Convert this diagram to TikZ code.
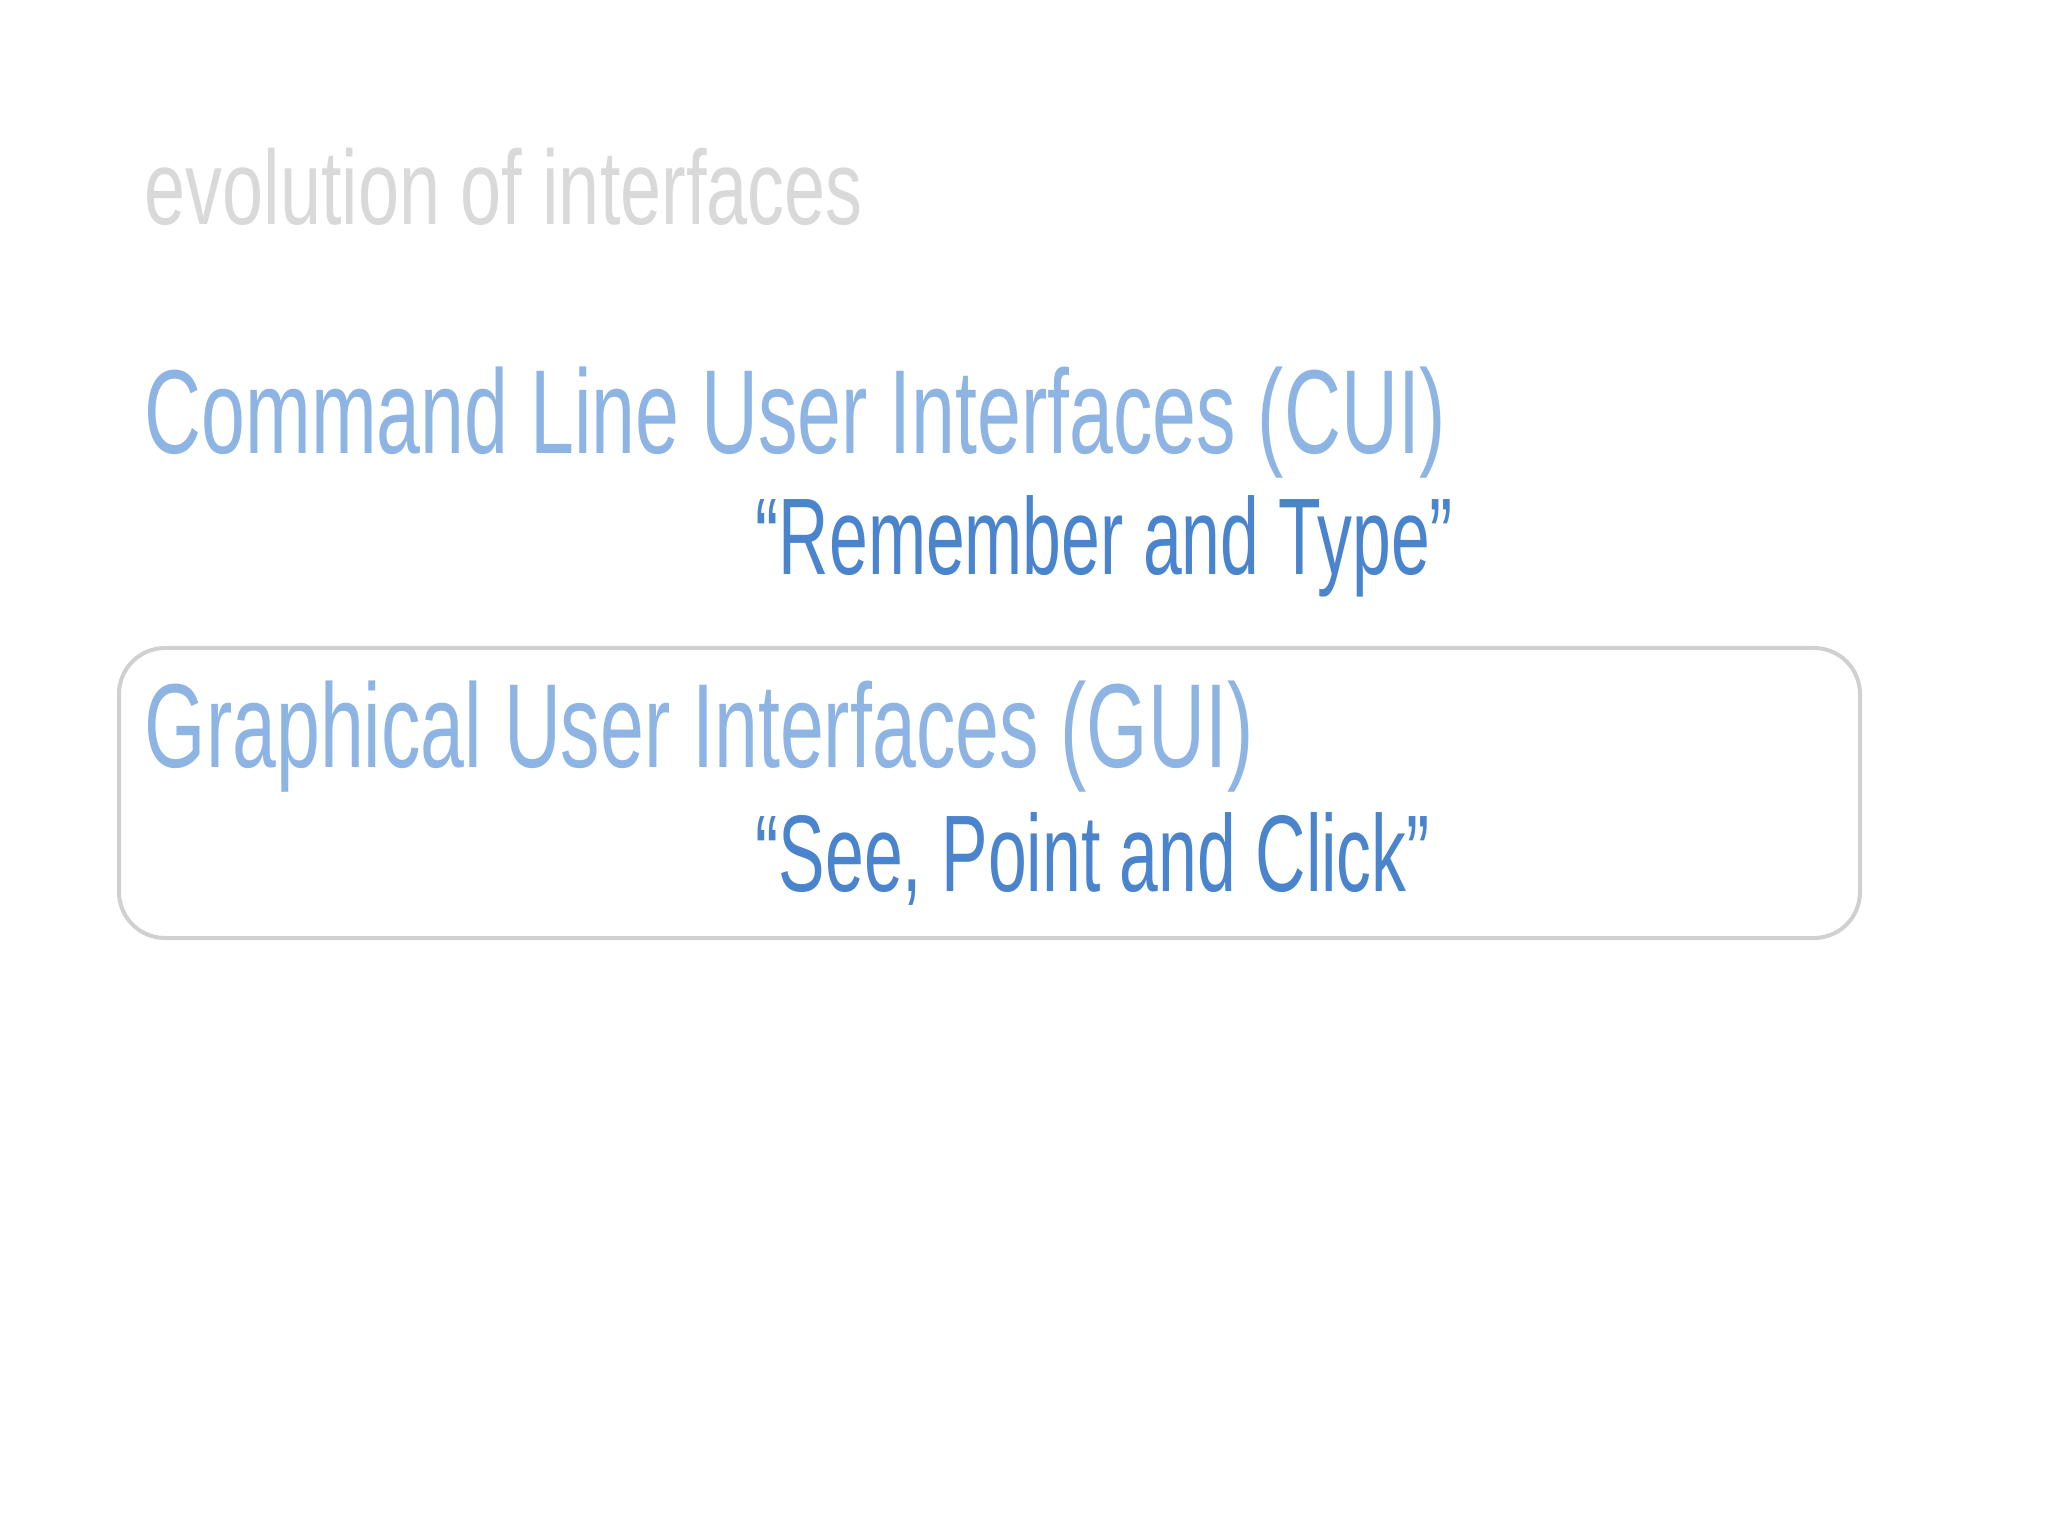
\documentclass[tikz,border=0pt]{standalone}
\usepackage{fontspec}
\newfontfamily\agencyA[FakeStretch=0.66]{Liberation Sans}
\newfontfamily\agencyT[FakeStretch=0.70]{Liberation Sans}
\newfontfamily\agencyQ[FakeStretch=0.64]{Liberation Sans}
\definecolor{titlegray}{HTML}{D9D9D9}
\definecolor{headblue}{HTML}{8EB4E3}
\definecolor{quoteblue}{HTML}{4A84CC}
\definecolor{boxgray}{HTML}{D0D0D0}
\begin{document}
\begin{tikzpicture}[x=1cm,y=1cm,
  txt/.style={anchor=base west,inner sep=0pt},
  framebox/.style={draw=boxgray,line width=0.04cm,rounded corners=0.46cm}]
\useasboundingbox (0,0) rectangle (20.48,-15.36);
\fill[white] (0,0) rectangle (20.48,-15.36);
\node[txt,text=titlegray,font=\agencyT\fontsize{30}{36}\selectfont] (title) at (1.44,-2.25) {evolution of interfaces};
\node[txt,text=headblue,font=\agencyA\fontsize{34}{40}\selectfont] (cui) at (1.44,-4.54) {Command Line User Interfaces (CUI)};
\node[txt,text=quoteblue,font=\agencyQ\fontsize{31}{37}\selectfont] (cuiq) at (7.55,-5.75) {“Remember and Type”};
\draw[framebox] (1.19,-6.48) rectangle (18.60,-9.38);
\node[txt,text=headblue,font=\agencyA\fontsize{34}{40}\selectfont] (gui) at (1.44,-7.68) {Graphical User Interfaces (GUI)};
\node[txt,text=quoteblue,font=\agencyQ\fontsize{31}{37}\selectfont] (guiq) at (7.55,-8.92) {“See, Point and Click”};
\end{tikzpicture}
\end{document}
